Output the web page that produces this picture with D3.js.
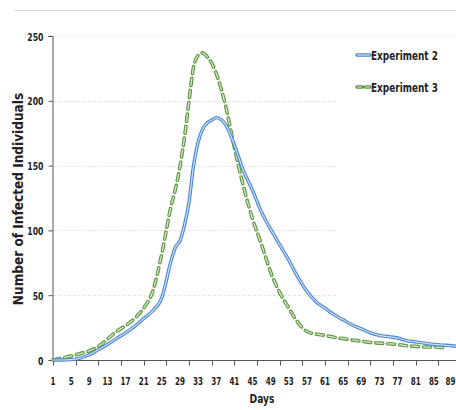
<!DOCTYPE html>
<html>
<head>
<meta charset="utf-8">
<script src="https://cdn.jsdelivr.net/npm/d3@7"></script>
<style>
  body { margin: 0; background: #fff; }
  svg text { font-family: "DejaVu Sans Condensed", "Liberation Sans Narrow", sans-serif; font-weight: bold; fill: #222; }
</style>
</head>
<body>
<div id="chart"></div>
<script>
const days = [1, 3, 5, 7, 9, 11, 13, 15, 17, 19, 21, 23, 25, 27, 28, 29, 30, 31, 32, 33, 34, 35, 36, 37, 39, 41, 43, 45, 47, 49,
  51, 53, 55, 57, 59, 61, 63, 65, 67, 69, 71, 73, 75, 77, 79, 81, 83, 85, 87, 89, 90];
const exp2 = [0, 0, 0.3, 1.5, 4, 8, 12, 16.5, 21, 26, 32, 38, 48, 76, 87, 92, 104, 122, 150, 168, 178, 183, 185, 187, 182, 166, 146, 131, 114, 101,
  89, 77, 64, 53, 45, 40, 35, 31, 27, 24, 21, 19, 18, 17, 15, 14, 13, 12, 11.5, 11, 10.5];
const exp3 = [0, 1.5, 3, 5, 7, 10.5, 16, 22, 26.5, 32, 40, 53, 82, 118, 132, 149, 172, 200, 226, 235, 237, 234, 229, 221, 197, 164, 134, 109, 89, 68,
  52, 40, 29, 22, 20, 19, 17.5, 16.5, 15.5, 14.5, 13.5, 13, 12.5, 12, 11, 10.5, 10, 10, 9.5, null, null];
const yTicks = [0, 50, 100, 150, 200, 250];
const xLabels = d3.range(1, 90, 4);
const xTickMarks = d3.range(1, 91, 5);
const seriesNames = ["Experiment 2", "Experiment 3"];

const width = 456, height = 410;
const svg = d3.select("#chart").append("svg")
  .attr("width", width)
  .attr("height", height);

const x = d3.scaleLinear().domain([1, 89]).range([53, 452]);
const y = d3.scaleLinear().domain([0, 250]).range([360, 36]);

// squeeze a text horizontally so it looks like a narrow font
function narrow(sel, px, py, w, rot) {
  sel.each(function () {
    const len = this.getComputedTextLength();
    const s = Math.min(1, w / len);
    d3.select(this).attr("x", 0).attr("y", 0)
      .attr("transform", `translate(${px},${py})${rot ? " rotate(" + rot + ")" : ""} scale(${s},1)`);
  });
}

// top separator
svg.append("line")
  .attr("x1", 14).attr("x2", width).attr("y1", 10.5).attr("y2", 10.5)
  .attr("stroke", "#dcdcdc").attr("stroke-width", 1);

// gridlines
svg.selectAll(".grid")
  .data(yTicks.filter(d => d > 0))
  .enter()
  .append("line")
  .attr("x1", 53)
  .attr("x2", d => d === 250 ? width : 337)
  .attr("y1", d => Math.round(y(d)) + 0.5)
  .attr("y2", d => Math.round(y(d)) + 0.5)
  .attr("stroke", d => d === 250 ? "#f2f2f2" : "#e4e4e4")
  .attr("stroke-dasharray", d => d === 250 ? null : "3,2");

// y axis
const yAxis = svg.append("g")
  .attr("transform", "translate(52.5,0)")
  .call(d3.axisLeft(y).tickValues(yTicks).tickSize(4).tickPadding(5));
yAxis.select(".domain").attr("stroke", "#555");
yAxis.selectAll(".tick line").attr("stroke", "#555");
yAxis.selectAll(".tick text")
  .style("font-size", "10.5px")
  .attr("dy", null)
  .each(function (d) {
    narrow(d3.select(this), -9, 4, String(d).length * 5.4);
  });

// x axis
const xAxis = svg.append("g")
  .attr("transform", "translate(0,360.5)");
xAxis.append("line")
  .attr("x1", 52).attr("x2", width).attr("stroke", "#555");
xAxis.selectAll(".tm")
  .data(xTickMarks)
  .enter()
  .append("line")
  .attr("x1", d => Math.round(x(d)) + 0.5)
  .attr("x2", d => Math.round(x(d)) + 0.5)
  .attr("y1", 0).attr("y2", 5)
  .attr("stroke", "#555");
xAxis.selectAll(".tl")
  .data(xLabels)
  .enter()
  .append("text")
  .attr("text-anchor", "middle")
  .style("font-size", "10.5px")
  .text(d => d)
  .each(function (d) {
    narrow(d3.select(this), Math.min(x(d), 450.5), 24, String(d).length * 5);
  });

// titles
svg.append("text")
  .attr("text-anchor", "middle")
  .style("font-size", "13.5px")
  .text("Number of Infected Individuals")
  .call(narrow, 23, 199, 238, -90);
svg.append("text")
  .attr("text-anchor", "middle")
  .style("font-size", "11.5px")
  .text("Days")
  .call(narrow, 262, 403, 25);

const line2 = d3.line()
  .x((d, i) => x(days[i]))
  .y(d => y(d))
  .curve(d3.curveMonotoneX);
const line3 = d3.line()
  .defined(d => d !== null)
  .x((d, i) => x(days[i]))
  .y(d => y(d))
  .curve(d3.curveMonotoneX);

const plot = svg.append("g");
// Experiment 3 : dashed double green
plot.append("path")
  .attr("d", line3(exp3))
  .attr("fill", "none")
  .attr("stroke", "#5e9641")
  .attr("stroke-width", 3.6)
  .attr("stroke-dasharray", "7,5")
  .attr("stroke-linecap", "round");
plot.append("path")
  .attr("d", line3(exp3))
  .attr("fill", "none")
  .attr("stroke", "#d6e8c8")
  .attr("stroke-width", 1.3)
  .attr("stroke-dasharray", "7,5")
  .attr("stroke-linecap", "round");

// Experiment 2 : solid double blue
plot.append("path")
  .attr("d", line2(exp2))
  .attr("fill", "none")
  .attr("stroke", "#4a86cf")
  .attr("stroke-width", 3.4);
plot.append("path")
  .attr("d", line2(exp2))
  .attr("fill", "none")
  .attr("stroke", "#cfe0f4")
  .attr("stroke-width", 1.2);

// legend
const legend = svg.append("g");
const items = [
  { name: seriesNames[0], dash: null, c: "#4a86cf", inner: "#cfe0f4", yy: 55 },
  { name: seriesNames[1], dash: "5,3", c: "#5e9641", inner: "#d6e8c8", yy: 87 }
];
items.forEach(it => {
  legend.append("line")
    .attr("x1", 357).attr("x2", 370).attr("y1", it.yy).attr("y2", it.yy)
    .attr("stroke", it.c).attr("stroke-width", 3.4)
    .attr("stroke-dasharray", it.dash).attr("stroke-linecap", "round");
  legend.append("line")
    .attr("x1", 357).attr("x2", 370).attr("y1", it.yy).attr("y2", it.yy)
    .attr("stroke", it.inner).attr("stroke-width", 1.2)
    .attr("stroke-dasharray", it.dash);
  legend.append("text")
    .style("font-size", "13px")
    .text(it.name)
    .call(narrow, 371, it.yy + 5, 67);
});
</script>
</body>
</html>
